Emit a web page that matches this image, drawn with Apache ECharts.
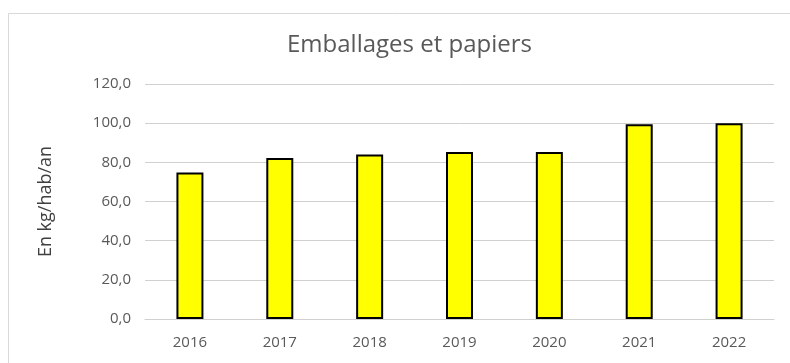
<!DOCTYPE html>
<html>
<head>
<meta charset="utf-8">
<script src="https://cdn.jsdelivr.net/npm/echarts@6/dist/echarts.min.js"></script>
<style>
html,body{margin:0;padding:0;background:#fff;}
#c{width:790px;height:363px;}
</style>
</head>
<body>
<div id="c"></div>
<script>
const categories = ['2016','2017','2018','2019','2020','2021','2022'];
const values = [74.8, 82.2, 84.0, 85.3, 85.3, 99.5, 99.9];
const titleText = 'Emballages et papiers';
const yAxisName = 'En kg/hab/an';

const chart = echarts.init(document.getElementById('c'), null, {renderer:'canvas'});
chart.setOption({
  animation: false,
  backgroundColor: '#fff',
  graphic: [{
    type: 'rect', left: 6, top: 11,
    shape: {width: 800, height: 400},
    style: {fill: 'none', stroke: '#d9d9d9', lineWidth: 1}
  }],
  title: {
    text: titleText, left: 282, top: 28,
    textStyle: {fontFamily: 'Open Sans', fontWeight: 'normal', fontSize: 24, color: '#595959'}
  },
  grid: {left: 145, right: 16, top: 84, bottom: 44},
  xAxis: {
    type: 'category', data: categories,
    axisLine: {lineStyle: {color: '#d0d0d0'}},
    axisTick: {show: false},
    axisLabel: {fontFamily: 'Open Sans', fontSize: 15, color: '#595959', margin: 16}
  },
  yAxis: {
    type: 'value', min: 0, max: 120, interval: 20,
    name: yAxisName, nameLocation: 'middle', nameGap: 90, nameRotate: 90,
    nameTextStyle: {fontFamily: 'Open Sans', fontSize: 18, color: '#404040'},
    axisLine: {show: false}, axisTick: {show: false},
    splitLine: {lineStyle: {color: '#d0d0d0'}},
    axisLabel: {fontFamily: 'Open Sans', fontSize: 15, color: '#595959', margin: 14,
      formatter: v => v.toFixed(1).replace('.', ',')}
  },
  series: [{
    type: 'bar', data: values, barWidth: 27,
    itemStyle: {color: '#ffff00', borderColor: '#000', borderWidth: 2}
  }]
});
</script>
</body>
</html>
